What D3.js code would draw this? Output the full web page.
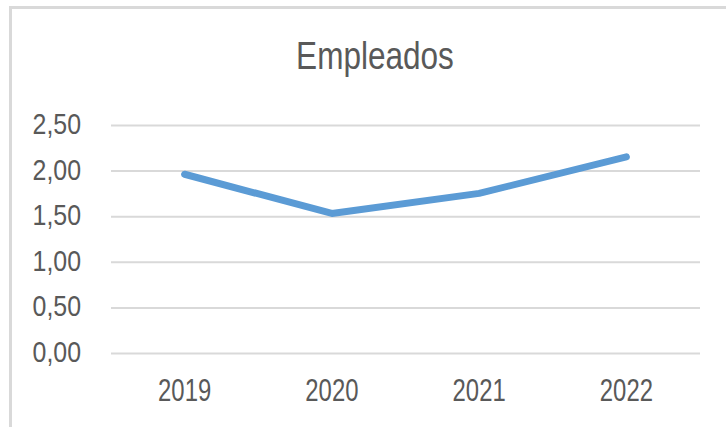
<!DOCTYPE html>
<html>
<head>
<meta charset="utf-8">
<script src="https://cdn.jsdelivr.net/npm/d3@7"></script>
<style>
  body { margin: 0; background: #fff; }
  text { font-family: "Liberation Sans", Arial, sans-serif; fill: #595959; }
</style>
</head>
<body>
<svg id="chart" width="726" height="427"></svg>
<script>
// Empleados line chart

var years = ["2019", "2020", "2021", "2022"];
var empleados = [1.96, 1.53, 1.75, 2.15];
var yTicks = [0, 0.5, 1, 1.5, 2, 2.5];

var svg = d3.select("#chart"),
    margin = {top: 125, right: 26, bottom: 74, left: 111},
    width = 726 - margin.left - margin.right,
    height = 427 - margin.top - margin.bottom;

// narrow look of the original font: squeeze text to the measured width
function squeeze(sel, k) {
    sel.each(function() {
        var len = this.getComputedTextLength();
        d3.select(this).attr("textLength", len * k).attr("lengthAdjust", "spacingAndGlyphs");
    });
}

// chart area border (runs off the right and bottom edge)
svg.append("rect")
    .attr("x", 10.5).attr("y", 7.5)
    .attr("width", 760).attr("height", 460)
    .attr("fill", "none").attr("stroke", "#d9d9d9").attr("stroke-width", 3);

svg.append("text")
    .attr("x", 375).attr("y", 69)
    .attr("text-anchor", "middle")
    .style("font-size", "38px")
    .text("Empleados")
    .call(squeeze, 0.83);

var g = svg.append("g").attr("transform", "translate(" + margin.left + "," + margin.top + ")");

var x = d3.scaleBand().domain(years).range([0, width]);
var y = d3.scaleLinear().domain([0, 2.5]).range([height, 0]);

var fmt = function(d) { return d3.format(".2f")(d).replace(".", ","); };

// gridlines + y labels
var yAxis = g.append("g")
    .call(d3.axisLeft(y).tickValues(yTicks).tickSize(-width).tickFormat(fmt).tickPadding(30));
yAxis.select(".domain").remove();
yAxis.selectAll(".tick line").attr("stroke", "#d9d9d9").attr("stroke-width", 2);
yAxis.selectAll(".tick text")
    .style("font-size", "30px").attr("fill", "#595959")
    .attr("y", 8.5).attr("dy", 0)
    .call(squeeze, 0.83);

// x labels
var xAxis = g.append("g")
    .attr("transform", "translate(0," + height + ")")
    .call(d3.axisBottom(x).tickSize(0));
xAxis.select(".domain").remove();
xAxis.selectAll(".tick text")
    .style("font-size", "31px").attr("fill", "#595959")
    .attr("y", 48).attr("dy", 0)
    .call(squeeze, 0.77);

// the line
var line = d3.line()
    .x(function(d, i) { return x(years[i]) + x.bandwidth() / 2; })
    .y(function(d) { return y(d); });

g.append("path")
    .datum(empleados)
    .attr("d", line)
    .attr("fill", "none")
    .attr("stroke", "#5b9bd5")
    .attr("stroke-width", 7)
    .attr("stroke-linecap", "round")
    .attr("stroke-linejoin", "round");
</script>
</body>
</html>
